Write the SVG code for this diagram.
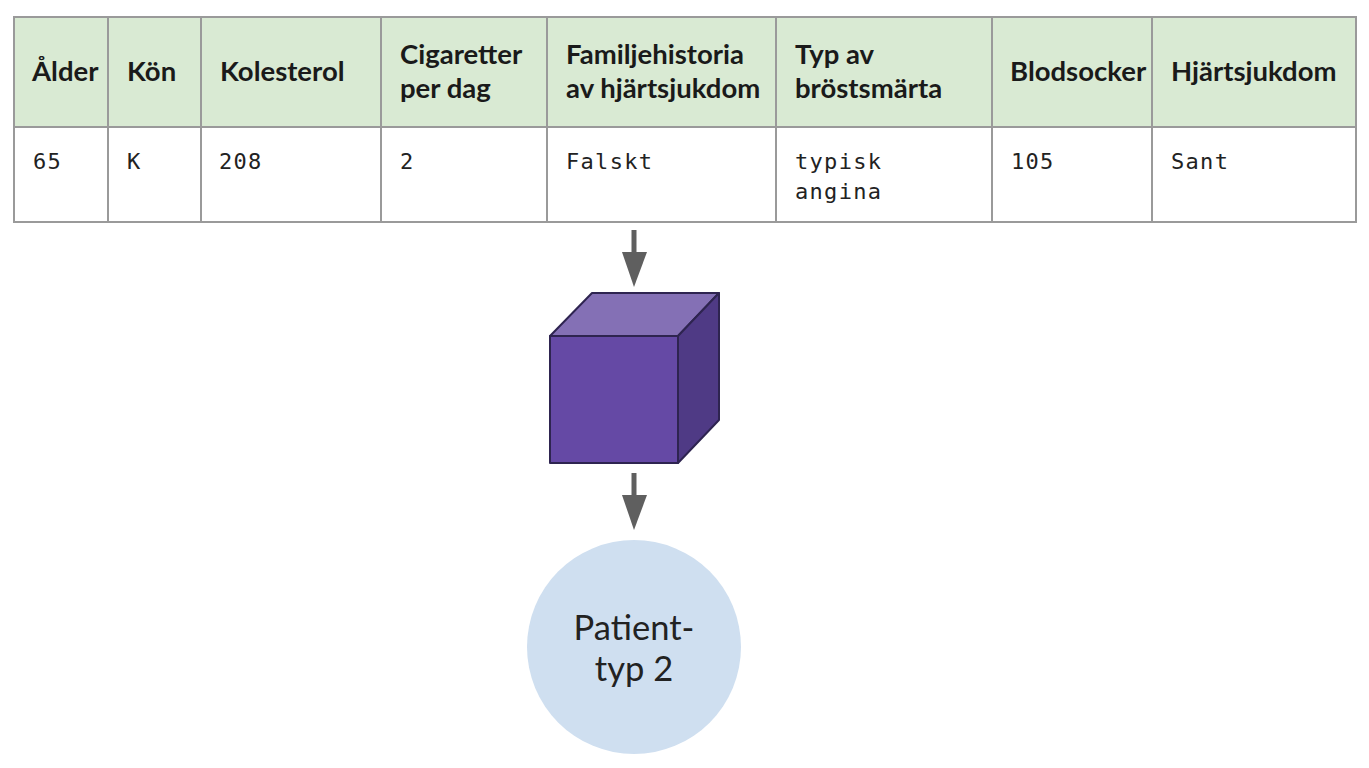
<svg xmlns="http://www.w3.org/2000/svg" width="1369" height="768" viewBox="0 0 1369 768">
<defs>
<style>
.h{font-family:Lato,"Noto Sans",sans-serif;font-weight:bold;font-size:27.5px;fill:#1a1a1a}
.d{font-family:"DejaVu Sans Mono","Liberation Mono",monospace;font-size:22px;letter-spacing:1.3px;fill:#222}
.ln{stroke:#9a9a9a;stroke-width:2;fill:none}
.arr{stroke:#5f5f5f;stroke-width:5;fill:none}
.ah{fill:#5f5f5f}
.c{font-family:Lato,"Noto Sans",sans-serif;font-size:34.5px;fill:#222;text-anchor:middle}
</style>
</defs>
<rect width="1369" height="768" fill="#ffffff"/>
<g id="table">
<rect x="14" y="17" width="1342" height="110" fill="#d9ead3"/>
<rect x="14" y="127" width="1342" height="95" fill="#ffffff"/>
<rect x="14" y="17" width="1342" height="205" class="ln"/>
<line x1="14" y1="127" x2="1356" y2="127" class="ln"/>
<line x1="108" y1="17" x2="108" y2="222" class="ln"/>
<line x1="201" y1="17" x2="201" y2="222" class="ln"/>
<line x1="381" y1="17" x2="381" y2="222" class="ln"/>
<line x1="547" y1="17" x2="547" y2="222" class="ln"/>
<line x1="776" y1="17" x2="776" y2="222" class="ln"/>
<line x1="992" y1="17" x2="992" y2="222" class="ln"/>
<line x1="1152" y1="17" x2="1152" y2="222" class="ln"/>
<text class="h" x="32" y="81">Ålder</text>
<text class="h" x="127" y="81">Kön</text>
<text class="h" x="220" y="81">Kolesterol</text>
<text class="h" x="400" y="64">Cigaretter</text>
<text class="h" x="400" y="98">per dag</text>
<text class="h" x="566" y="64">Familjehistoria</text>
<text class="h" x="566" y="98">av hjärtsjukdom</text>
<text class="h" x="795" y="64">Typ av</text>
<text class="h" x="795" y="98">bröstsmärta</text>
<text class="h" x="1010" y="81">Blodsocker</text>
<text class="h" x="1171" y="81">Hjärtsjukdom</text>
<text class="d" x="33" y="169">65</text>
<text class="d" x="127" y="169">K</text>
<text class="d" x="219" y="169">208</text>
<text class="d" x="400" y="169">2</text>
<text class="d" x="566" y="169">Falskt</text>
<text class="d" x="795" y="169">typisk</text>
<text class="d" x="795" y="199">angina</text>
<text class="d" x="1011" y="169">105</text>
<text class="d" x="1171" y="169">Sant</text>
</g>
<g id="connectors">
<line x1="634" y1="230" x2="634" y2="254" class="arr"/>
<polygon class="ah" points="622,252 647,252 634,287"/>
<line x1="634" y1="473" x2="634" y2="497" class="arr"/>
<polygon class="ah" points="622,495 647,495 634,530"/>
</g>
<g id="model" stroke="#2e2450" stroke-width="2" stroke-linejoin="round">
<polygon points="550,336 592,293 719,293 678,336" fill="#8470b5"/>
<polygon points="678,336 719,293 719,420 678,463" fill="#4f3a85"/>
<rect x="550" y="336" width="128" height="127" fill="#6549a5"/>
</g>
<g id="result">
<circle cx="634" cy="647" r="107" fill="#cfdff0"/>
<text class="c" x="634" y="640">Patient-</text>
<text class="c" x="634" y="681">typ 2</text>
</g>
</svg>
